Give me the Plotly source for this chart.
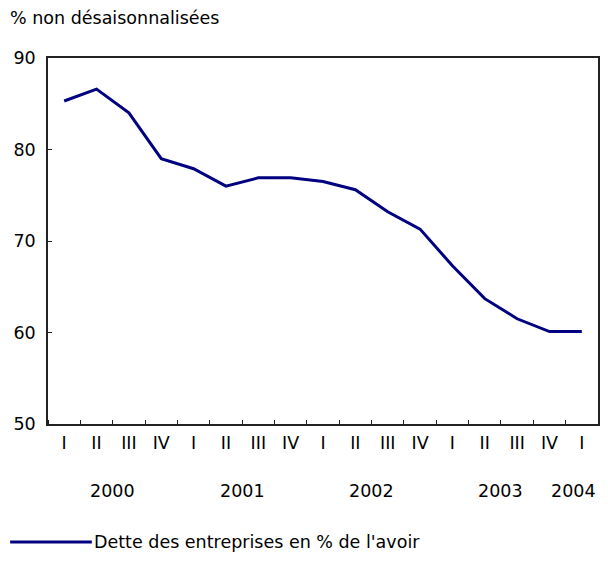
import plotly.graph_objects as go

quarters = ["I", "II", "III", "IV"] * 4 + ["I"]
years = ["2000", "2001", "2002", "2003", "2004"]
values = [85.3, 86.6, 84.0, 79.0, 77.9, 76.0, 76.9, 76.9, 76.5, 75.6,
          73.2, 71.3, 67.3, 63.7, 61.5, 60.1, 60.1]
series_name = "Dette des entreprises en % de l'avoir"
y_title = "% non désaisonnalisées"

x = list(range(len(values)))
NAVY = "#000080"
FONT = "DejaVu Sans, Verdana, sans-serif"
FS = 17.5

fig = go.Figure()
fig.add_trace(go.Scatter(x=x, y=values, mode="lines", name=series_name,
                         line=dict(color=NAVY, width=3), showlegend=False))

# page body has an 8px margin on every side: keep the figure inside the viewport
OFF = 8
W, H = 608 - 2 * OFF, 584 - 2 * OFF
L, T = 48 - OFF, 58 - OFF
R = W - (600 - OFF)
B = H - (424 - OFF)
pw, ph = W - L - R, H - T - B

def px_x(X):
    return (X - OFF - L) / pw

def px_y(Y):
    return (H - B - (Y - OFF)) / ph

annotations = []
for i, yr in enumerate(years):
    idx = [j for j in range(len(values)) if j // 4 == i]
    cx = sum(idx) / len(idx)
    if len(idx) < 4:
        # partial last year: align its label with the right edge of its quarter
        pos, anchor = max(idx) + 0.5, "right"
    else:
        pos, anchor = cx, "center"
    annotations.append(dict(x=pos, y=px_y(491), xref="x", yref="paper", text=yr,
                            showarrow=False, font=dict(size=FS, color="black", family=FONT),
                            xanchor=anchor, yanchor="middle"))
annotations.append(dict(x=px_x(8), y=px_y(18), xref="paper", yref="paper", text=y_title,
                        showarrow=False, font=dict(size=FS, color="black", family=FONT),
                        xanchor="left", yanchor="middle"))
annotations.append(dict(x=px_x(92), y=px_y(542), xref="paper", yref="paper", text=series_name,
                        showarrow=False, font=dict(size=FS, color="black", family=FONT),
                        xanchor="left", yanchor="middle"))

fig.update_layout(
    width=W, height=H,
    margin=dict(l=L, r=R, t=T, b=B, pad=0),
    plot_bgcolor="white", paper_bgcolor="white",
    font=dict(family=FONT, size=FS, color="black"),
    annotations=annotations,
    shapes=[dict(type="line", xref="paper", yref="paper",
                 x0=px_x(10), x1=px_x(92), y0=px_y(542), y1=px_y(542),
                 line=dict(color=NAVY, width=3))],
    xaxis=dict(range=[-0.5, len(values) - 0.5], tickvals=x, ticktext=quarters,
               ticks="", ticklen=0, showgrid=False, zeroline=False,
               showline=True, linecolor="#222", linewidth=1.5, mirror=True,
               ticklabelstandoff=2,
               minor=dict(ticks="inside", tick0=0.5, dtick=1, ticklen=4,
                          tickcolor="#222", tickwidth=1, showgrid=False),
               tickfont=dict(size=FS, family=FONT)),
    yaxis=dict(range=[50, 90], tickvals=[50, 60, 70, 80, 90], ticks="inside",
               ticklen=4, tickcolor="#222", showgrid=False, zeroline=False,
               showline=True, linecolor="#222", linewidth=1.5, mirror=True,
               ticklabelstandoff=7, tickfont=dict(size=FS, family=FONT)),
)

fig.write_html("out.html")
